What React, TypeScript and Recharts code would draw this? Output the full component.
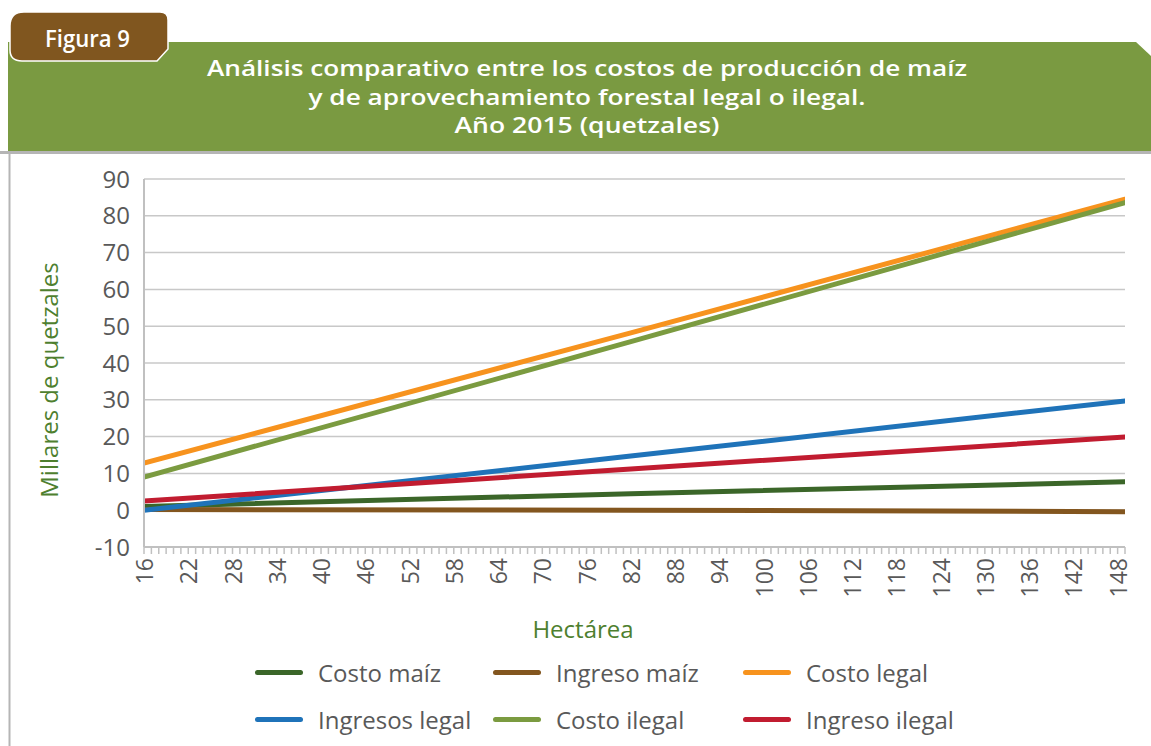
import React from "react";
import {
  LineChart,
  Line,
  XAxis,
  YAxis,
  CartesianGrid,
  Label,
} from "recharts";

const hectareas = [16, 82, 149];

const costoMaiz = [1.0, 4.5, 7.7];
const ingresoMaiz = [0.2, 0.0, -0.4];
const costoLegal = [12.8, 48.2, 84.5];
const ingresosLegal = [0.0, 14.7, 29.7];
const costoIlegal = [9.0, 45.8, 83.6];
const ingresoIlegal = [2.5, 11.2, 19.9];

const yTicks = [-10, 0, 10, 20, 30, 40, 50, 60, 70, 80, 90];
const xLabelTicks = [
  16, 22, 28, 34, 40, 46, 52, 58, 64, 70, 76, 82, 88, 94, 100, 106, 112, 118,
  124, 130, 136, 142, 148,
];
const X_MIN = 16;
const X_MAX = 149;

const titleLines = [
  "Análisis comparativo entre los costos de  producción de maíz",
  "y de aprovechamiento forestal legal o ilegal.",
  "Año 2015 (quetzales)",
];

const SERIES = [
  { key: "costoMaiz", name: "Costo maíz", color: "#3b6629", values: costoMaiz },
  { key: "ingresoMaiz", name: "Ingreso maíz", color: "#83561f", values: ingresoMaiz },
  { key: "costoLegal", name: "Costo legal", color: "#f7931e", values: costoLegal },
  { key: "ingresosLegal", name: "Ingresos legal", color: "#1f73b9", values: ingresosLegal },
  { key: "costoIlegal", name: "Costo ilegal", color: "#7b9b40", values: costoIlegal },
  { key: "ingresoIlegal", name: "Ingreso ilegal", color: "#c11c30", values: ingresoIlegal },
];

const data = hectareas.map((h, i) => {
  const row: Record<string, number> = { h };
  SERIES.forEach((s) => (row[s.key] = s.values[i]));
  return row;
});

// every hectare gets a small tick mark, labels only every 6
const allTicks: number[] = [];
for (let v = X_MIN; v <= X_MAX; v++) allTicks.push(v);

const FONT = "'Open Sans', sans-serif";
const GRAY = "#595959";
const AXIS_GREEN = "#4e7f2f";

const XTick = (props: any) => {
  const { x, y, payload } = props;
  if (!xLabelTicks.includes(payload.value)) return <g />;
  return (
    <text
      x={x}
      y={y}
      transform={`rotate(-90 ${x} ${y})`}
      textAnchor="end"
      dominantBaseline="central"
      fill={GRAY}
      fontSize={23}
      fontFamily={FONT}
    >
      {payload.value}
    </text>
  );
};

// legend positions: 3 columns, 2 rows
const legendCols = [255, 493, 743];
const legendRows = [672, 719];

export default function App() {
  return (
    <div
      style={{
        position: "absolute",
        left: 0,
        top: 0,
        width: 1151,
        height: 746,
        background: "#fff",
        overflow: "hidden",
      }}
    >
      <svg
        width={1151}
        height={746}
        style={{ position: "absolute", left: 0, top: 0 }}
      >
        <path d="M8 42 H1136 L1151 56 V151 H8 Z" fill="#7a9a41" />
        <rect x={0} y={151} width={1151} height={3} fill="#b5b5b5" />
        <line x1={9.5} y1={151} x2={9.5} y2={746} stroke="#b5b5b5" strokeWidth={2} />
        <path
          d="M10 26 Q10 12 24 12 H160 Q168 12 168 20 V49 L157 61 H22 Q10 61 10 50 Z"
          fill="#80561f"
          stroke="#ffffff"
          strokeWidth={1.5}
        />
        <text
          x={45}
          y={47}
          fill="#fff"
          fontFamily={FONT}
          fontWeight={600}
          fontSize={24}
          textLength={85}
          lengthAdjust="spacingAndGlyphs"
        >
          Figura 9
        </text>
        {titleLines.map((t, i) => (
          <text
            key={i}
            x={587}
            y={76 + i * 28.5}
            textAnchor="middle"
            fill="#fff"
            fontFamily={FONT}
            fontWeight={600}
            fontSize={21}
            textLength={[760, 557, 265][i]}
            lengthAdjust="spacingAndGlyphs"
          >
            {t}
          </text>
        ))}
      </svg>

      <div style={{ position: "absolute", left: 0, top: 0 }}>
        <LineChart
          width={1151}
          height={746}
          data={data}
          margin={{ top: 179, right: 26, bottom: 139, left: 0 }}
        >
          <CartesianGrid
            horizontal
            vertical={false}
            stroke="#c8c8c8"
            strokeWidth={1.5}
          />
          <XAxis
            dataKey="h"
            type="number"
            domain={[X_MIN, X_MAX]}
            ticks={allTicks}
            interval={0}
            height={60}
            tick={<XTick />}
            tickSize={7}
            tickMargin={4}
            axisLine={{ stroke: "#c0c0c0", strokeWidth: 2 }}
            tickLine={{ stroke: "#c0c0c0", strokeWidth: 1.5 }}
            allowDataOverflow
          >
            <Label
              content={() => (
                <text
                  x={583}
                  y={628}
                  textAnchor="middle"
                  dominantBaseline="central"
                  fill={AXIS_GREEN}
                  fontSize={24}
                  fontFamily={FONT}
                >
                  Hectárea
                </text>
              )}
            />
          </XAxis>
          <YAxis
            type="number"
            domain={[-10, 90]}
            ticks={yTicks}
            interval={0}
            width={144}
            tickLine={false}
            tickSize={6}
            tickMargin={8}
            axisLine={{ stroke: "#c0c0c0", strokeWidth: 2 }}
            tick={{ fill: GRAY, fontSize: 24, fontFamily: FONT }}
          >
            <Label
              content={() => (
                <text
                  x={48}
                  y={380}
                  transform="rotate(-90 48 380)"
                  textAnchor="middle"
                  dominantBaseline="central"
                  fill={AXIS_GREEN}
                  fontSize={24}
                  fontFamily={FONT}
                >
                  Millares de quetzales
                </text>
              )}
            />
          </YAxis>
          {SERIES.map((s) => (
            <Line
              key={s.key}
              type="linear"
              dataKey={s.key}
              name={s.name}
              stroke={s.color}
              strokeWidth={5}
              strokeLinecap="round"
              dot={false}
              activeDot={false}
              isAnimationActive={false}
            />
          ))}
        </LineChart>
      </div>

      {SERIES.map((s, i) => {
        const left = legendCols[i % 3];
        const top = legendRows[Math.floor(i / 3)];
        return (
          <div
            key={s.key}
            style={{
              position: "absolute",
              left,
              top: top - 17,
              height: 34,
              display: "flex",
              alignItems: "center",
              fontFamily: FONT,
              fontSize: 24,
              color: GRAY,
              whiteSpace: "nowrap",
            }}
          >
            <span
              style={{
                display: "inline-block",
                width: 48,
                height: 5,
                borderRadius: 3,
                background: s.color,
                marginRight: 15,
              }}
            />
            {s.name}
          </div>
        );
      })}
    </div>
  );
}
